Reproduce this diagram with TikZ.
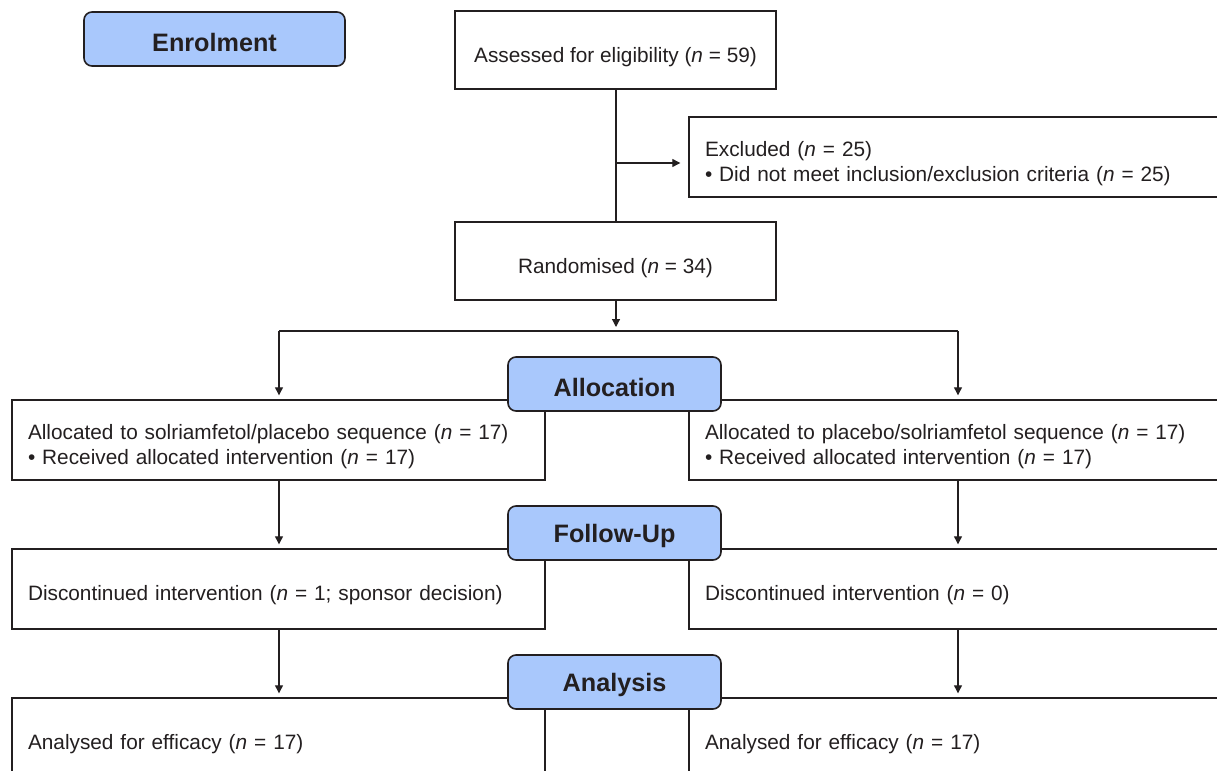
\documentclass[tikz,border=0pt]{standalone}
\usepackage{fontspec}
\setmainfont{Liberation Sans}
\usetikzlibrary{arrows.meta}
\definecolor{stageblue}{HTML}{A9C8FC}
\definecolor{ink}{HTML}{231F20}
\newcommand{\nn}[0] {\textit{n}}
\tikzset{
    stage/.style={shape=rectangle, rounded corners=4pt, draw=ink, line width=0.8pt, fill=stageblue,
        minimum width=106.5pt, minimum height=27pt, inner sep=0pt, font=\fontsize{12.6}{14}\selectfont\bfseries, text=ink,
        execute at begin node=\rule{0pt}{12.5pt}},
    midbox/.style={shape=rectangle, draw=ink, line width=0.7pt, fill=white,
        minimum width=160.5pt, minimum height=39pt, inner sep=0pt, font=\fontsize{10.4}{12.6}\selectfont, text=ink,
        execute at begin node=\rule{0pt}{15pt}},
    sidebox/.style={shape=rectangle, draw=ink, line width=0.7pt, fill=white, text width=250.5pt, inner xsep=8pt, inner ysep=0pt,
        align=left, minimum height=40pt, font=\fontsize{10.4}{12.6}\selectfont, text=ink,
        execute at begin node=\rule{0pt}{14pt}}
}
\begin{document}
\begin{tikzpicture}[x=0.5pt, y=-0.5pt, >={Triangle[length=4pt,width=4pt]}]
        \useasboundingbox[fill=white] (0,0) rectangle (1217,771);
        \clip (0,0) rectangle (1217,771);
        %columns
        \coordinate (lcol) at (279,331);
        \coordinate (rcol) at (958,331);
        \coordinate (split) at (616,331);
        \coordinate (branch) at (616,163);
        %enrolment and its boxes
        \node[stage, minimum width=130.5pt] (enrol) at (214.5,39)     {Enrolment};
        \node[midbox] (assess) at (615.5,50)     {Assessed for eligibility (\nn{} = 59)};
        \node[sidebox] (excl) at (955.5,157)     {Excluded (\nn{} = 25)\\ \textbullet{} Did not meet inclusion/exclusion criteria (\nn{} = 25)};
        \node[midbox] (rand) at (615.5,261)     {Randomised (\nn{} = 34)};
        %allocation and its boxes
        \node[sidebox] (alloc_l) at (278.5,440)     {Allocated to solriamfetol/placebo sequence (\nn{} = 17)\\ \textbullet{} Received allocated intervention (\nn{} = 17)};
        \node[sidebox] (alloc_r) at (955.5,440)     {Allocated to placebo/solriamfetol sequence (\nn{} = 17)\\ \textbullet{} Received allocated intervention (\nn{} = 17)};
        \node[stage] (alloc) at (614.5,384)     {Allocation};
        %follow-up and its boxes
        \node[sidebox] (follow_l) at (278.5,589)     {Discontinued intervention (\nn{} = 1; sponsor decision)};
        \node[sidebox] (follow_r) at (955.5,589)     {Discontinued intervention (\nn{} = 0)};
        \node[stage] (follow) at (614.5,533)     {Follow-Up};
        %analysis and its boxes
        \node[sidebox] (anal_l) at (278.5,738)     {Analysed for efficacy (\nn{} = 17)};
        \node[sidebox] (anal_r) at (955.5,738)     {Analysed for efficacy (\nn{} = 17)};
        \node[stage] (anal) at (614.5,682)     {Analysis};
        %connections between
        \path[-, ink, line width=0.6pt] (assess.south -| branch) edge (rand.north -| branch);
        \path[->, ink, line width=0.6pt] (branch) edge ([xshift=-4pt]excl.west |- branch);
        \path[->, ink, line width=0.6pt] (rand.south -| split) edge ([yshift=2pt]split);
        \path[-, ink, line width=0.6pt] (lcol) edge (rcol);
        %arrows of the left column
        \path[->, ink, line width=0.6pt] (lcol) edge ([yshift=2pt]alloc_l.north -| lcol);
        \path[->, ink, line width=0.6pt] (alloc_l.south -| lcol) edge ([yshift=2pt]follow_l.north -| lcol);
        \path[->, ink, line width=0.6pt] (follow_l.south -| lcol) edge ([yshift=2pt]anal_l.north -| lcol);
        %arrows of the right column
        \path[->, ink, line width=0.6pt] (rcol) edge ([yshift=2pt]alloc_r.north -| rcol);
        \path[->, ink, line width=0.6pt] (alloc_r.south -| rcol) edge ([yshift=2pt]follow_r.north -| rcol);
        \path[->, ink, line width=0.6pt] (follow_r.south -| rcol) edge ([yshift=2pt]anal_r.north -| rcol);
    \end{tikzpicture}
\end{document}
